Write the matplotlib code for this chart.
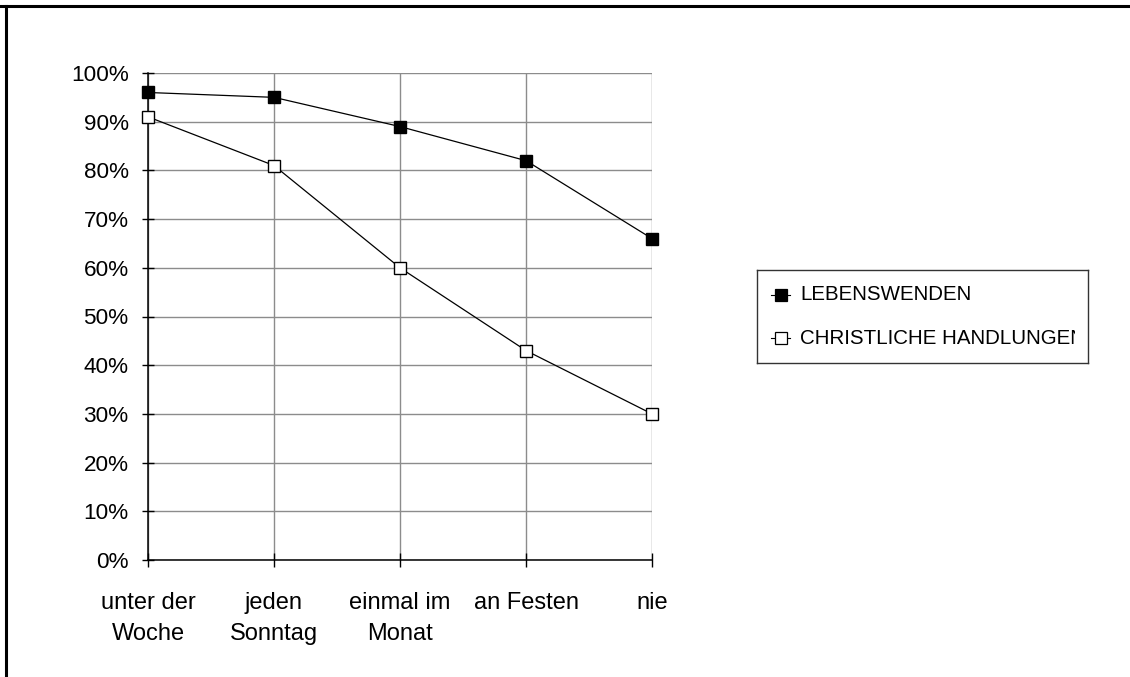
import matplotlib
matplotlib.use("Agg")
import matplotlib.pyplot as plt
from matplotlib.lines import Line2D
from matplotlib.transforms import Bbox, TransformedBbox
from matplotlib.ticker import PercentFormatter

plt.rcParams['font.family'] = ['Liberation Sans', 'DejaVu Sans']

categories = ["unter der\nWoche", "jeden\nSonntag", "einmal im\nMonat", "an Festen", "nie"]
lebenswenden = [96, 95, 89, 82, 66]
christliche = [91, 81, 60, 43, 30]
series_names = ["LEBENSWENDEN", "CHRISTLICHE HANDLUNGEN"]
y_ticks = list(range(0, 101, 10))

W, H = 1130, 677
fig = plt.figure(figsize=(W / 100, H / 100), dpi=100)

ax = fig.add_axes([148 / W, 1 - 560 / H, (652 - 148) / W, (560 - 73) / H])
x = list(range(len(categories)))

ax.plot(x, lebenswenden, color='black', lw=0.9, marker='s', ms=9,
        mfc='black', mec='black', mew=1.0, zorder=3, clip_on=False)
ax.plot(x, christliche, color='black', lw=0.9, marker='s', ms=9,
        mfc='white', mec='black', mew=1.0, zorder=3, clip_on=False)

ax.set_xlim(0, len(categories) - 1)
ax.set_ylim(0, 100)
ax.set_yticks(y_ticks)
ax.yaxis.set_major_formatter(PercentFormatter(decimals=0))
ax.set_xticks(x)
ax.set_xticklabels(categories, linespacing=1.55)

ax.grid(True, color='#8c8c8c', lw=1.0)
ax.set_axisbelow(True)
for s in ('top', 'right'):
    ax.spines[s].set_visible(False)
for s in ('left', 'bottom'):
    ax.spines[s].set_color('black')
    ax.spines[s].set_linewidth(1.1)

ax.tick_params(axis='y', direction='inout', length=8, width=1, pad=10,
               labelsize=16.2, colors='black')
ax.tick_params(axis='x', direction='inout', length=10, width=1, pad=18,
               labelsize=17, colors='black')

# legend box
lax = fig.add_axes([757 / W, 1 - 363 / H, (1088 - 757) / W, (363 - 270) / H])
lax.set_xlim(757, 1088)
lax.set_ylim(363, 270)
lax.set_xticks([])
lax.set_yticks([])
for s in lax.spines.values():
    s.set_color('#333333')
    s.set_linewidth(1.0)

# text area ends a little inside the right edge of the box
text_area = TransformedBbox(Bbox.from_extents(757 / W, 0, 1075 / W, 1),
                            fig.transFigure)

rows = [(295, 'black'), (338, 'white')]
for (yy, fc), name in zip(rows, series_names):
    lax.plot([771, 790], [yy, yy], color='black', lw=0.8)
    lax.plot([780.5], [yy], marker='s', ms=8, mfc=fc, mec='black', mew=0.9)
    t = lax.text(800, yy, name, fontsize=14.8, va='center', ha='left')
    t.set_clip_box(text_area)
    t.set_clip_on(True)

# outer frame (top and left edges)
fig.add_artist(Line2D([0, 1], [1 - 6 / H, 1 - 6 / H], transform=fig.transFigure,
                      color='black', lw=2.2))
fig.add_artist(Line2D([6 / W, 6 / W], [0, 1 - 6 / H], transform=fig.transFigure,
                      color='black', lw=2.2))

fig.savefig("out.png", dpi=100, facecolor='white')
